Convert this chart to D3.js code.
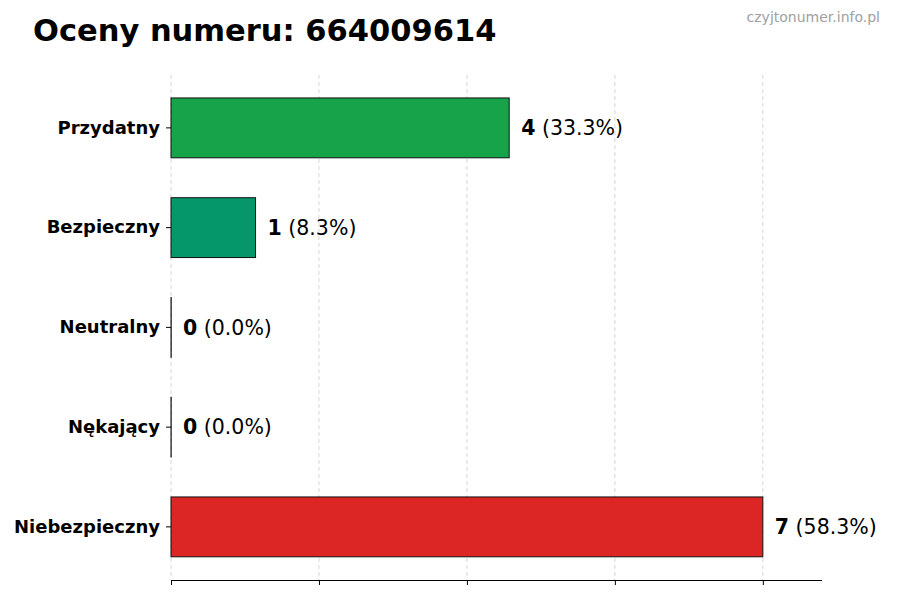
<!DOCTYPE html>
<html><head><meta charset="utf-8">
<script src="https://cdn.jsdelivr.net/npm/d3@7"></script>
<style>body{margin:0;background:#fff}text{font-family:"DejaVu Sans",sans-serif}</style>
</head><body><svg id="c" width="900" height="600"></svg>
<script>
const categories = ["Przydatny","Bezpieczny","Neutralny","Nękający","Niebezpieczny"];
const counts = [4,1,0,0,7];
const percents = ["33.3%","8.3%","0.0%","0.0%","58.3%"];
const colors = ["#16a34a","#059669","#6b7280","#f59e0b","#dc2626"];
const xTicks = [0,1.75,3.5,5.25,7];
const title = "Oceny numeru: 664009614";
const watermark = "czyjtonumer.info.pl";

const svg = d3.select("#c");
const m = {l:171, r:822, t:75, b:580};
const x = d3.scaleLinear().domain([0,7.7]).range([m.l,m.r]);
const y = d3.scaleBand().domain(categories).range([78,576.75]).paddingInner(0.4).paddingOuter(0.2);

svg.append("text").attr("x",33).attr("y",41).attr("font-size",30.5).attr("font-weight","bold").attr("fill","#000").text(title);
svg.append("text").attr("x",880).attr("y",22).attr("text-anchor","end").attr("font-size",14).attr("fill","#a0a0a0").text(watermark);

// grid
svg.append("g").selectAll("line").data(xTicks).join("line")
  .attr("x1",d=>x(d)).attr("x2",d=>x(d)).attr("y1",m.t).attr("y2",m.b)
  .attr("stroke","#ccc").attr("stroke-dasharray","4,3").attr("stroke-width",0.8);

// bars
svg.append("g").selectAll("rect").data(categories).join("rect")
  .attr("x",x(0)).attr("y",d=>y(d)).attr("width",(d,i)=>Math.max(x(counts[i])-x(0),0.2)).attr("height",y.bandwidth())
  .attr("fill",(d,i)=>colors[i]).attr("stroke","#111").attr("stroke-width",1);

// value labels
const lab = svg.append("g").selectAll("text").data(categories).join("text")
  .attr("x",(d,i)=>x(counts[i])+12).attr("y",d=>y(d)+y.bandwidth()/2).attr("dy","0.35em")
  .attr("font-size",20.5).attr("fill","#000");
lab.append("tspan").attr("font-weight","bold").text((d,i)=>counts[i]);
lab.append("tspan").text((d,i)=>" ("+percents[i]+")");

// y axis (ticks only)
const ya = svg.append("g").attr("transform",`translate(${m.l},0)`).call(d3.axisLeft(y).tickSize(5).tickPadding(6));
ya.select(".domain").remove();
ya.selectAll("text").attr("font-size",18).attr("font-weight","bold").attr("fill","#000").style("font-family","DejaVu Sans");

// x axis
const xa = svg.append("g").attr("transform",`translate(0,${m.b})`).call(d3.axisBottom(x).tickValues(xTicks).tickSize(5).tickFormat(""));
xa.select(".domain").attr("d",`M${m.l},0.5H${m.r}`);
</script></body></html>
